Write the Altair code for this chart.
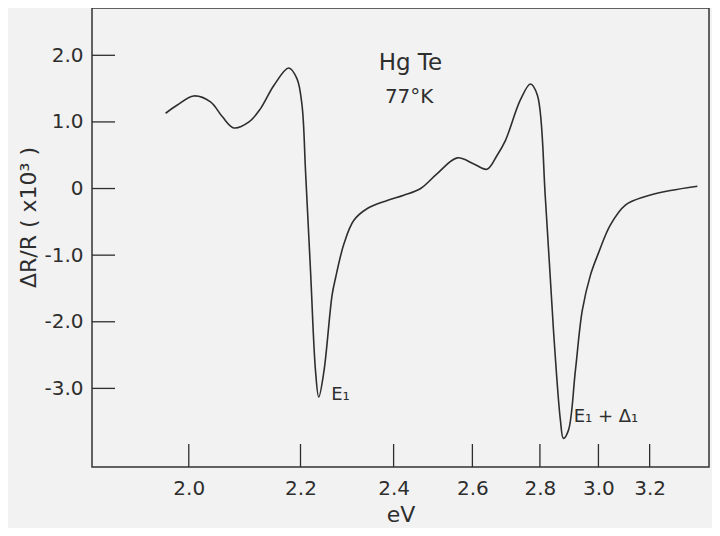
import altair as alt
import pandas as pd

# Photon energy (eV) and modulated reflectance dR/R (x10^3)
ENERGY = [1.963, 1.981, 2.008, 2.036, 2.056, 2.076, 2.103, 2.124, 2.149, 2.177,
          2.193, 2.203, 2.210, 2.220, 2.230, 2.2365, 2.247, 2.264, 2.271, 2.289,
          2.310, 2.340, 2.385, 2.424, 2.465, 2.506, 2.559, 2.604, 2.641, 2.670,
          2.694, 2.739, 2.770, 2.792, 2.818, 2.844, 2.867, 2.877, 2.894, 2.918,
          2.942, 2.971, 3.000, 3.044, 3.102, 3.182, 3.289, 3.412]
DR_R = [1.13, 1.25, 1.39, 1.30, 1.08, 0.91, 1.00, 1.20, 1.55, 1.81,
        1.65, 1.25, 0.25, -1.25, -2.74, -3.13, -2.75, -1.60, -1.35, -0.83,
        -0.48, -0.30, -0.18, -0.10, 0.00, 0.22, 0.46, 0.37, 0.29, 0.50,
        0.72, 1.33, 1.57, 1.40, -0.18, -2.13, -3.48, -3.75, -3.63, -2.73,
        -1.83, -1.30, -0.97, -0.55, -0.25, -0.12, -0.03, 0.035]

X_TICKS = [2.0, 2.2, 2.4, 2.6, 2.8, 3.0, 3.2]
Y_TICKS = [2.0, 1.0, 0.0, -1.0, -2.0, -3.0]
Y_TICK_LABELS = ["2.0", "1.0", "0", "-1.0", "-2.0", "-3.0"]

NOTE_TEXT = ["Hg Te", "77°K", "E₁", "E₁ + Δ₁"]
NOTE_E = [2.440, 2.437, 2.262, 2.912]
NOTE_V = [1.88, 1.37, -3.10, -3.43]
NOTE_SIZE = [23, 20, 18, 18]
NOTE_ALIGN = ["center", "center", "left", "left"]

W, H = 617, 459
X_DOMAIN = [1.854, 3.468]
Y_DOMAIN = [-4.18, 2.71]
FONT = "DejaVu Sans"
INK = "#2e2e2e"

curve = pd.DataFrame({"E": ENERGY, "v": DR_R})
xt = pd.DataFrame({"E": X_TICKS})
yt = pd.DataFrame({"v": Y_TICKS})
notes = pd.DataFrame({"t": NOTE_TEXT, "E": NOTE_E, "v": NOTE_V,
                      "s": NOTE_SIZE, "a": NOTE_ALIGN})

xscale = alt.Scale(type="pow", exponent=-1, domain=X_DOMAIN, zero=False, nice=False)
yscale = alt.Scale(domain=Y_DOMAIN, zero=False, nice=False)

ylab = ""
for v, lab in zip(Y_TICKS, Y_TICK_LABELS):
    ylab += f"abs(datum.value - ({v})) < 1e-6 ? '{lab}' : "
ylab += "''"

xaxis = alt.Axis(
    values=X_TICKS, format=".1f", ticks=False, tickSize=0, domain=False,
    grid=False, labelPadding=11, labelFontSize=20, labelFont=FONT,
    labelColor=INK, title="eV", titleFontSize=22, titleFont=FONT,
    titleFontWeight="normal", titleColor=INK, titleY=47,
    titleBaseline="middle")
yaxis = alt.Axis(
    values=Y_TICKS, labelExpr=ylab, ticks=False, tickSize=0, domain=False,
    grid=False, labelPadding=9, labelFontSize=20, labelFont=FONT,
    labelColor=INK, title="ΔR/R ( x10³ )", titleFontSize=22,
    titleFont=FONT, titleFontWeight="normal", titleColor=INK,
    titleX=-64, titleY=209, titleBaseline="middle", titleAngle=270)

X = lambda: alt.X("E:Q", scale=xscale, axis=xaxis, title="eV")
Y = lambda: alt.Y("v:Q", scale=yscale, axis=yaxis, title="ΔR/R ( x10³ )")

line = alt.Chart(curve).mark_line(
    color=INK, strokeWidth=1.6, interpolate="catmull-rom"
).encode(x=X(), y=Y())

xticks = alt.Chart(xt).mark_rule(color=INK, strokeWidth=1.3).encode(
    x=X(), y=alt.value(H - 23), y2=alt.value(H),
)
yticks = alt.Chart(yt).mark_rule(color=INK, strokeWidth=1.3).encode(
    y=Y(), x=alt.value(0), x2=alt.value(23),
)

text_layers = []
for align in ["center", "left"]:
    text_layers.append(
        alt.Chart(notes).transform_filter(f"datum.a == '{align}'").mark_text(
            align=align, baseline="middle", font=FONT, color=INK
        ).encode(
            x=X(), y=Y(), text="t:N",
            size=alt.Size("s:Q", scale=None, legend=None),
        )
    )

chart = alt.layer(line, xticks, yticks, *text_layers).properties(
    width=W, height=H,
    autosize=alt.AutoSizeParams(type="none"),
    padding={"left": 84, "top": 0, "right": 3, "bottom": 61},
    background="#f2f2f2",
).configure_view(stroke="#333333", strokeWidth=1.5)

chart.save("out.html", embed_options={"renderer": "svg", "actions": False})
